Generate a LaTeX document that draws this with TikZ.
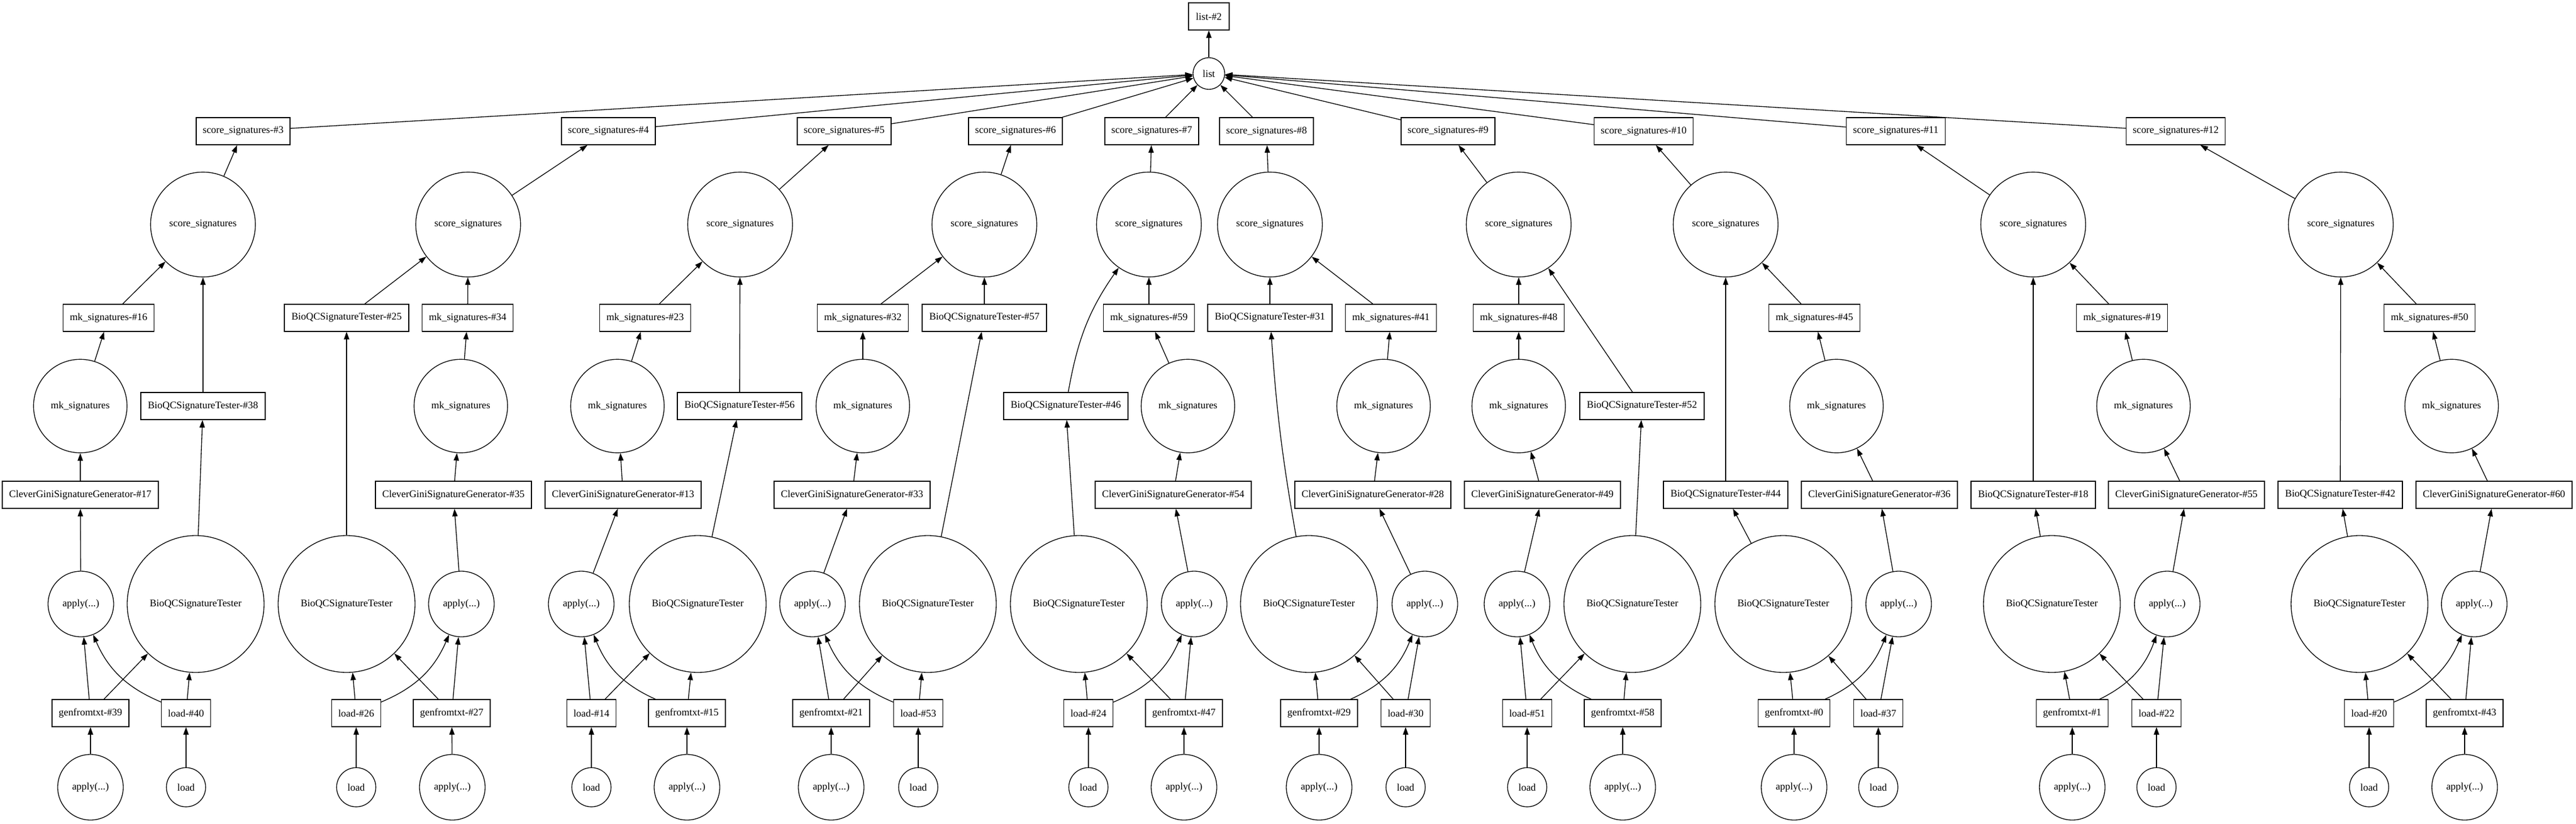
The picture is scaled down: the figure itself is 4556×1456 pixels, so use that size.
\documentclass[tikz,border=0pt]{standalone}
\usepackage{fontspec}
\newfontfamily\gvfam{Liberation Serif}
\usetikzlibrary{arrows.meta}
\tikzset{
  gvtext/.style={font=\gvfam\fontsize{13.4pt}{16pt}\selectfont},
  gbox/.style={gvtext, draw, rectangle, line width=1pt, minimum height=36pt, minimum width=#1, inner sep=0pt},
  gcirc/.style={gvtext, draw, circle, line width=1pt, minimum size=#1, inner sep=0pt},
  ssone/.style={gbox=124.5pt}, sstwo/.style={gbox=131pt}, mkbox/.style={gbox=121pt},
  bqbox/.style={gbox=165pt}, cgbox/.style={gbox=207pt}, genbox/.style={gbox=102pt},
  genone/.style={gbox=95pt}, ldbox/.style={gbox=65pt}, lsbox/.style={gbox=54pt},
  lscirc/.style={gcirc=42pt}, sccirc/.style={gcirc=139pt}, mkcirc/.style={gcirc=124pt},
  apcirc/.style={gcirc=87pt}, bqcirc/.style={gcirc=181.5pt}, ldcirc/.style={gcirc=52pt},
  gedge/.style={draw, line width=1pt, -{Triangle[length=10pt,width=7pt]}},
}
\begin{document}
\begin{tikzpicture}[x=0.75pt,y=0.75pt]
\useasboundingbox (0,0) rectangle (4556,-1456);
% top
\node[lsbox] (list2) at (2138,-29) {list-\#2};
\node[lscirc] (list) at (2138,-130) {list};
% column 1
\node[ssone]  (ssb1) at (430,-232) {score\_signatures-\#3};
\node[sccirc] (sce1) at (359,-397) {score\_signatures};
\node[mkbox]  (mkb1) at (192,-562) {mk\_signatures-\#16};
\node[mkcirc] (mke1) at (142,-718) {mk\_signatures};
\node[bqbox]  (bqb1) at (359,-718) {BioQCSignatureTester-\#38};
\node[cgbox]  (cgb1) at (142,-875) {CleverGiniSignatureGenerator-\#17};
\node[apcirc] (ape1) at (143,-1068) {apply(...)};
\node[bqcirc] (bqe1) at (346,-1068) {BioQCSignatureTester};
\node[genbox] (genb1) at (160,-1261) {genfromtxt-\#39};
\node[ldbox]  (ldb1) at (329,-1261) {load-\#40};
\node[apcirc] (apb1) at (160,-1392) {apply(...)};
\node[ldcirc] (lde1) at (329,-1392) {load};
% column 2
\node[ssone]  (ssb2) at (1076,-232) {score\_signatures-\#4};
\node[sccirc] (sce2) at (828,-397) {score\_signatures};
\node[bqbox]  (bqb2) at (613,-562) {BioQCSignatureTester-\#25};
\node[mkbox]  (mkb2) at (827,-562) {mk\_signatures-\#34};
\node[mkcirc] (mke2) at (815,-718) {mk\_signatures};
\node[cgbox]  (cgb2) at (802,-875) {CleverGiniSignatureGenerator-\#35};
\node[bqcirc] (bqe2) at (613,-1068) {BioQCSignatureTester};
\node[apcirc] (ape2) at (816,-1068) {apply(...)};
\node[ldbox]  (ldb2) at (630,-1261) {load-\#26};
\node[genbox] (genb2) at (799,-1261) {genfromtxt-\#27};
\node[ldcirc] (lde2) at (630,-1392) {load};
\node[apcirc] (apb2) at (800,-1392) {apply(...)};
% column 3
\node[ssone]  (ssb3) at (1493,-232) {score\_signatures-\#5};
\node[sccirc] (sce3) at (1309,-397) {score\_signatures};
\node[mkbox]  (mkb3) at (1141,-562) {mk\_signatures-\#23};
\node[mkcirc] (mke3) at (1092,-718) {mk\_signatures};
\node[bqbox]  (bqb3) at (1308,-718) {BioQCSignatureTester-\#56};
\node[cgbox]  (cgb3) at (1102,-875) {CleverGiniSignatureGenerator-\#13};
\node[apcirc] (ape3) at (1028,-1068) {apply(...)};
\node[bqcirc] (bqe3) at (1234,-1068) {BioQCSignatureTester};
\node[ldbox]  (ldb3) at (1046,-1261) {load-\#14};
\node[genbox] (genb3) at (1215,-1261) {genfromtxt-\#15};
\node[ldcirc] (lde3) at (1046,-1392) {load};
\node[apcirc] (apb3) at (1215,-1392) {apply(...)};
% column 4
\node[ssone]  (ssb4) at (1796,-232) {score\_signatures-\#6};
\node[sccirc] (sce4) at (1741,-397) {score\_signatures};
\node[mkbox]  (mkb4) at (1526,-562) {mk\_signatures-\#32};
\node[bqbox]  (bqb4) at (1741,-562) {BioQCSignatureTester-\#57};
\node[mkcirc] (mke4) at (1526,-718) {mk\_signatures};
\node[cgbox]  (cgb4) at (1507,-875) {CleverGiniSignatureGenerator-\#33};
\node[apcirc] (ape4) at (1437,-1068) {apply(...)};
\node[bqcirc] (bqe4) at (1641,-1068) {BioQCSignatureTester};
\node[genbox] (genb4) at (1470,-1261) {genfromtxt-\#21};
\node[ldbox]  (ldb4) at (1624,-1261) {load-\#53};
\node[apcirc] (apb4) at (1470,-1392) {apply(...)};
\node[ldcirc] (lde4) at (1624,-1392) {load};
% column 5
\node[ssone]  (ssb5) at (2037,-232) {score\_signatures-\#7};
\node[sccirc] (sce5) at (2032,-397) {score\_signatures};
\node[mkbox]  (mkb5) at (2032,-562) {mk\_signatures-\#59};
\node[bqbox]  (bqb5) at (1885,-718) {BioQCSignatureTester-\#46};
\node[mkcirc] (mke5) at (2101,-718) {mk\_signatures};
\node[cgbox]  (cgb5) at (2075,-875) {CleverGiniSignatureGenerator-\#54};
\node[bqcirc] (bqe5) at (1908,-1068) {BioQCSignatureTester};
\node[apcirc] (ape5) at (2112,-1068) {apply(...)};
\node[ldbox]  (ldb5) at (1925,-1261) {load-\#24};
\node[genbox] (genb5) at (2094,-1261) {genfromtxt-\#47};
\node[ldcirc] (lde5) at (1925,-1392) {load};
\node[apcirc] (apb5) at (2094,-1392) {apply(...)};
% column 6
\node[ssone]  (ssb6) at (2240,-232) {score\_signatures-\#8};
\node[sccirc] (sce6) at (2246,-397) {score\_signatures};
\node[bqbox]  (bqb6) at (2246,-562) {BioQCSignatureTester-\#31};
\node[mkbox]  (mkb6) at (2460,-562) {mk\_signatures-\#41};
\node[mkcirc] (mke6) at (2447,-718) {mk\_signatures};
\node[cgbox]  (cgb6) at (2428,-875) {CleverGiniSignatureGenerator-\#28};
\node[bqcirc] (bqe6) at (2315,-1068) {BioQCSignatureTester};
\node[apcirc] (ape6) at (2520,-1068) {apply(...)};
\node[genbox] (genb6) at (2333,-1261) {genfromtxt-\#29};
\node[ldbox]  (ldb6) at (2486,-1261) {load-\#30};
\node[apcirc] (apb6) at (2333,-1392) {apply(...)};
\node[ldcirc] (lde6) at (2486,-1392) {load};
% column 7
\node[ssone]  (ssb7) at (2561,-232) {score\_signatures-\#9};
\node[sccirc] (sce7) at (2686,-397) {score\_signatures};
\node[mkbox]  (mkb7) at (2686,-562) {mk\_signatures-\#48};
\node[mkcirc] (mke7) at (2686,-718) {mk\_signatures};
\node[bqbox]  (bqb7) at (2904,-718) {BioQCSignatureTester-\#52};
\node[cgbox]  (cgb7) at (2728,-875) {CleverGiniSignatureGenerator-\#49};
\node[apcirc] (ape7) at (2683,-1068) {apply(...)};
\node[bqcirc] (bqe7) at (2887,-1068) {BioQCSignatureTester};
\node[ldbox]  (ldb7) at (2701,-1261) {load-\#51};
\node[genbox] (genb7) at (2870,-1261) {genfromtxt-\#58};
\node[ldcirc] (lde7) at (2701,-1392) {load};
\node[apcirc] (apb7) at (2870,-1392) {apply(...)};
% column 8
\node[sstwo]  (ssb8) at (2907,-232) {score\_signatures-\#10};
\node[sccirc] (sce8) at (3052,-397) {score\_signatures};
\node[mkbox]  (mkb8) at (3209,-562) {mk\_signatures-\#45};
\node[mkcirc] (mke8) at (3248,-718) {mk\_signatures};
\node[bqbox]  (bqb8) at (3052,-875) {BioQCSignatureTester-\#44};
\node[cgbox]  (cgb8) at (3324,-875) {CleverGiniSignatureGenerator-\#36};
\node[bqcirc] (bqe8) at (3154,-1068) {BioQCSignatureTester};
\node[apcirc] (ape8) at (3358,-1068) {apply(...)};
\node[genone] (genb8) at (3173,-1261) {genfromtxt-\#0};
\node[ldbox]  (ldb8) at (3322,-1261) {load-\#37};
\node[apcirc] (apb8) at (3173,-1392) {apply(...)};
\node[ldcirc] (lde8) at (3322,-1392) {load};
% column 9
\node[sstwo]  (ssb9) at (3353,-232) {score\_signatures-\#11};
\node[sccirc] (sce9) at (3596,-397) {score\_signatures};
\node[mkbox]  (mkb9) at (3753,-562) {mk\_signatures-\#19};
\node[mkcirc] (mke9) at (3791,-718) {mk\_signatures};
\node[bqbox]  (bqb9) at (3596,-875) {BioQCSignatureTester-\#18};
\node[cgbox]  (cgb9) at (3867,-875) {CleverGiniSignatureGenerator-\#55};
\node[bqcirc] (bqe9) at (3629,-1068) {BioQCSignatureTester};
\node[apcirc] (ape9) at (3833,-1068) {apply(...)};
\node[genone] (genb9) at (3665,-1261) {genfromtxt-\#1};
\node[ldbox]  (ldb9) at (3814,-1261) {load-\#22};
\node[apcirc] (apb9) at (3665,-1392) {apply(...)};
\node[ldcirc] (lde9) at (3814,-1392) {load};
% column 10
\node[sstwo]  (ssb10) at (3848,-232) {score\_signatures-\#12};
\node[sccirc] (sce10) at (4140,-397) {score\_signatures};
\node[mkbox]  (mkb10) at (4297,-562) {mk\_signatures-\#50};
\node[mkcirc] (mke10) at (4336,-718) {mk\_signatures};
\node[bqbox]  (bqb10) at (4139,-875) {BioQCSignatureTester-\#42};
\node[cgbox]  (cgb10) at (4411,-875) {CleverGiniSignatureGenerator-\#60};
\node[bqcirc] (bqe10) at (4173,-1068) {BioQCSignatureTester};
\node[apcirc] (ape10) at (4376,-1068) {apply(...)};
\node[ldbox]  (ldb10) at (4190,-1261) {load-\#20};
\node[genbox] (genb10) at (4359,-1261) {genfromtxt-\#43};
\node[ldcirc] (lde10) at (4190,-1392) {load};
\node[apcirc] (apb10) at (4359,-1392) {apply(...)};
% edges common to all columns
\draw[gedge] (list) -- (list2);
\foreach \k in {1,...,10} {
  \draw[gedge] (apb\k) -- (genb\k);
  \draw[gedge] (lde\k) -- (ldb\k);
  \draw[gedge] (genb\k) -- (bqe\k);
  \draw[gedge] (ldb\k) -- (bqe\k);
  \draw[gedge] (ape\k) -- (cgb\k);
  \draw[gedge] (cgb\k) -- (mke\k);
  \draw[gedge] (mke\k) -- (mkb\k);
  \draw[gedge] (mkb\k) -- (sce\k);
  \draw[gedge] (sce\k) -- (ssb\k);
  \draw[gedge] (ssb\k) -- (list);
}
\foreach \k in {1,2,3,4,5,7,8,9,10} { \draw[gedge] (bqe\k) -- (bqb\k); }
\foreach \k in {1,2,3,4,6,7,8,9,10} { \draw[gedge] (bqb\k) -- (sce\k); }
\draw[gedge] (bqe6) to[bend left=3] (bqb6);
\draw[gedge] (bqb5) to[out=80,in=235] (sce5);
% inputs of apply(...)
\draw[gedge] (genb1) -- (ape1);  \draw[gedge] (ldb1) to[bend left=22] (ape1);
\draw[gedge] (genb2) -- (ape2);  \draw[gedge] (ldb2) to[bend right=22] (ape2);
\draw[gedge] (ldb3) -- (ape3);   \draw[gedge] (genb3) to[bend left=22] (ape3);
\draw[gedge] (genb4) -- (ape4);  \draw[gedge] (ldb4) to[bend left=22] (ape4);
\draw[gedge] (genb5) -- (ape5);  \draw[gedge] (ldb5) to[bend right=22] (ape5);
\draw[gedge] (ldb6) -- (ape6);   \draw[gedge] (genb6) to[bend right=22] (ape6);
\draw[gedge] (ldb7) -- (ape7);   \draw[gedge] (genb7) to[bend left=22] (ape7);
\draw[gedge] (ldb8) -- (ape8);   \draw[gedge] (genb8) to[bend right=22] (ape8);
\draw[gedge] (ldb9) -- (ape9);   \draw[gedge] (genb9) to[bend right=22] (ape9);
\draw[gedge] (genb10) -- (ape10); \draw[gedge] (ldb10) to[bend right=22] (ape10);
\end{tikzpicture}
\end{document}
